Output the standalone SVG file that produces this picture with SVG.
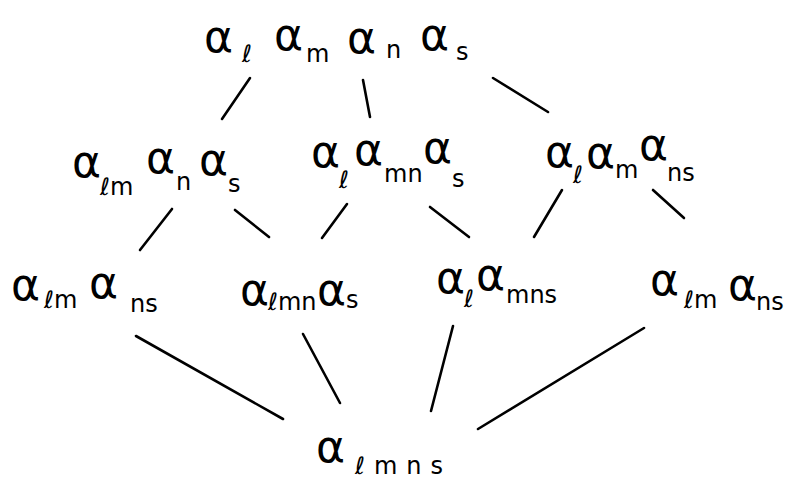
<svg xmlns="http://www.w3.org/2000/svg" width="791" height="480" viewBox="0 0 791 480">
<style>
text{font-family:"DejaVu Sans","Liberation Sans",sans-serif;fill:#000}
.a{font-size:44px}
.s{font-size:24px}
.c line{stroke:#000;stroke-width:2.6;stroke-linecap:round;fill:none}
</style>
<rect width="791" height="480" fill="#fff"/>
<g id="n-lmns-top">
<text><tspan class="a" x="204" y="52">α</tspan><tspan class="s" x="242" y="62">ℓ</tspan><tspan class="a" x="274" y="50">α</tspan><tspan class="s" x="306" y="62">m</tspan><tspan class="a" x="347" y="53">α</tspan><tspan class="s" x="386" y="58">n</tspan><tspan class="a" x="420" y="50">α</tspan><tspan class="s" x="456" y="60">s</tspan></text>
</g>
<g id="n-lm-n-s">
<text><tspan class="a" x="72" y="177">α</tspan><tspan class="s" x="100" y="195">ℓm</tspan><tspan class="a" x="146" y="173">α</tspan><tspan class="s" x="176" y="190">n</tspan><tspan class="a" x="199" y="175">α</tspan><tspan class="s" x="228" y="192">s</tspan></text>
</g>
<g id="n-l-mn-s">
<text><tspan class="a" x="311" y="167">α</tspan><tspan class="s" x="339" y="188">ℓ</tspan><tspan class="a" x="354" y="165">α</tspan><tspan class="s" x="384" y="182">mn</tspan><tspan class="a" x="423" y="163">α</tspan><tspan class="s" x="452" y="187">s</tspan></text>
</g>
<g id="n-l-m-ns">
<text><tspan class="a" x="545" y="167">α</tspan><tspan class="s" x="573" y="183">ℓ</tspan><tspan class="a" x="586" y="168">α</tspan><tspan class="s" x="615" y="178">m</tspan><tspan class="a" x="639" y="160">α</tspan><tspan class="s" x="667" y="181">ns</tspan></text>
</g>
<g id="n-lm-ns-1">
<text><tspan class="a" x="11" y="300">α</tspan><tspan class="s" x="44" y="308">ℓm</tspan><tspan class="a" x="89" y="298">α</tspan><tspan class="s" x="130" y="312">ns</tspan></text>
</g>
<g id="n-lmn-s">
<text><tspan class="a" x="240" y="305">α</tspan><tspan class="s" x="268" y="310">ℓmn</tspan><tspan class="a" x="317" y="305">α</tspan><tspan class="s" x="346" y="308">s</tspan></text>
</g>
<g id="n-l-mns">
<text><tspan class="a" x="436" y="293">α</tspan><tspan class="s" x="464" y="307">ℓ</tspan><tspan class="a" x="476" y="290">α</tspan><tspan class="s" x="506" y="303">mns</tspan></text>
</g>
<g id="n-lm-ns-2">
<text><tspan class="a" x="650" y="295">α</tspan><tspan class="s" x="684" y="308">ℓm</tspan><tspan class="a" x="728" y="300">α</tspan><tspan class="s" x="756" y="310">ns</tspan></text>
</g>
<g id="n-lmns">
<text><tspan class="a" x="316" y="462">α</tspan><tspan class="s" x="355" y="474" letter-spacing="9">ℓmns</tspan></text>
</g>
<g class="c" id="connectors">
<line x1="250" y1="78" x2="222" y2="119"/>
<line x1="363" y1="80" x2="370" y2="117"/>
<line x1="493" y1="78" x2="548" y2="112"/>
<line x1="172" y1="209" x2="140" y2="250"/>
<line x1="235" y1="210" x2="269" y2="237"/>
<line x1="347" y1="204" x2="322" y2="238"/>
<line x1="430" y1="207" x2="469" y2="237"/>
<line x1="562" y1="190" x2="534" y2="237"/>
<line x1="653" y1="190" x2="684" y2="218"/>
<line x1="136" y1="336" x2="283" y2="419"/>
<line x1="303" y1="334" x2="340" y2="403"/>
<line x1="453" y1="326" x2="431" y2="411"/>
<line x1="644" y1="328" x2="478" y2="429"/>
</g>
</svg>
